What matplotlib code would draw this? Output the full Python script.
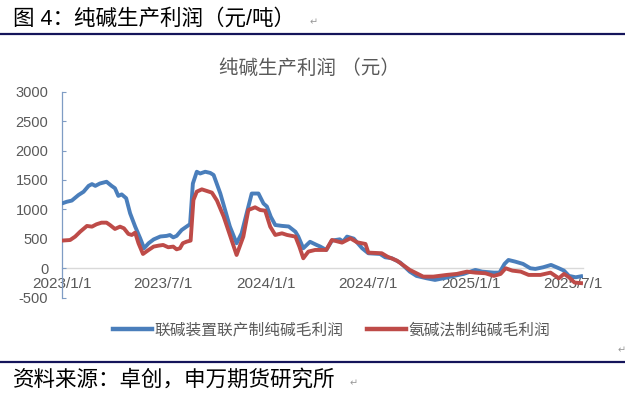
import matplotlib
matplotlib.use("Agg")
import matplotlib.pyplot as plt
import matplotlib.dates as mdates
import pandas as pd
from matplotlib.lines import Line2D

plt.rcParams['font.family'] = ['Liberation Sans', 'Noto Sans CJK SC', 'DejaVu Sans']

# ---------------- data ----------------
blue_dates = ["2023-01-01", "2023-01-10", "2023-01-19", "2023-01-31", "2023-02-09", "2023-02-18",
              "2023-02-24", "2023-03-02", "2023-03-10", "2023-03-22", "2023-03-31", "2023-04-06",
              "2023-04-12", "2023-04-18", "2023-04-26", "2023-05-03", "2023-05-12", "2023-05-21",
              "2023-05-28", "2023-06-05", "2023-06-14", "2023-06-26", "2023-07-07", "2023-07-13",
              "2023-07-19", "2023-07-25", "2023-08-03", "2023-08-12", "2023-08-18", "2023-08-23",
              "2023-08-30", "2023-09-05", "2023-09-14", "2023-09-23", "2023-09-29", "2023-10-11",
              "2023-10-28", "2023-11-09", "2023-11-18", "2023-11-27", "2023-12-06", "2023-12-18",
              "2023-12-27", "2024-01-02", "2024-01-09", "2024-01-17", "2024-01-29", "2024-02-10",
              "2024-02-22", "2024-02-27", "2024-03-07", "2024-03-19", "2024-03-31", "2024-04-06",
              "2024-04-17", "2024-04-27", "2024-05-11", "2024-05-17", "2024-05-24", "2024-06-05",
              "2024-06-20", "2024-07-01", "2024-07-22", "2024-07-31", "2024-08-12", "2024-08-27",
              "2024-09-13", "2024-09-25", "2024-10-13", "2024-10-28", "2024-11-12", "2024-11-30",
              "2024-12-18", "2025-01-08", "2025-01-20", "2025-02-10", "2025-02-20", "2025-03-01",
              "2025-03-08", "2025-03-20", "2025-04-03", "2025-04-16", "2025-04-25", "2025-05-09",
              "2025-05-23", "2025-06-06", "2025-06-15", "2025-06-24", "2025-07-06", "2025-07-19"]
blue_values = [1100, 1130, 1150, 1245, 1300, 1400,
               1430, 1400, 1440, 1470, 1400, 1360,
               1230, 1255, 1190, 935, 710, 510,
               340, 425, 490, 540, 550, 565,
               525, 550, 650, 710, 750, 1440,
               1640, 1610, 1640, 1620, 1585, 1270,
               710, 425, 595, 935, 1270, 1270,
               1100, 1050, 875, 735, 720, 710,
               620, 540, 340, 450, 395, 370,
               311, 470, 492, 453, 538, 504,
               340, 255, 243, 187, 170, 96,
               -57, -130, -170, -198, -170, -130,
               -96, -28, -57, -74, -74, 74,
               141, 113, 74, 0, -11, 17,
               57, 0, -40, -130, -153, -130]

red_dates = ["2023-01-01", "2023-01-16", "2023-01-25", "2023-02-03", "2023-02-15", "2023-02-24",
             "2023-03-04", "2023-03-13", "2023-03-22", "2023-03-28", "2023-04-06", "2023-04-15",
             "2023-04-22", "2023-04-30", "2023-05-06", "2023-05-12", "2023-05-18", "2023-05-26",
             "2023-06-05", "2023-06-14", "2023-06-23", "2023-07-01", "2023-07-10", "2023-07-19",
             "2023-07-25", "2023-07-31", "2023-08-05", "2023-08-12", "2023-08-19", "2023-08-24",
             "2023-08-30", "2023-09-08", "2023-09-17", "2023-09-26", "2023-10-05", "2023-10-17",
             "2023-10-28", "2023-11-09", "2023-11-21", "2023-11-30", "2023-12-12", "2023-12-21",
             "2023-12-30", "2024-01-08", "2024-01-17", "2024-01-29", "2024-02-07", "2024-02-22",
             "2024-02-29", "2024-03-07", "2024-03-16", "2024-03-28", "2024-04-08", "2024-04-17",
             "2024-04-27", "2024-05-15", "2024-05-30", "2024-06-11", "2024-06-26", "2024-07-01",
             "2024-07-25", "2024-08-04", "2024-08-21", "2024-09-13", "2024-10-07", "2024-10-25",
             "2024-11-18", "2024-12-06", "2024-12-24", "2025-01-08", "2025-01-26", "2025-02-10",
             "2025-02-22", "2025-03-03", "2025-03-15", "2025-03-30", "2025-04-13", "2025-05-04",
             "2025-05-22", "2025-06-06", "2025-06-15", "2025-06-24", "2025-07-04", "2025-07-19"]
red_values = [470, 480, 538, 622, 719, 707,
              747, 775, 775, 736, 668, 707,
              679, 583, 566, 606, 425, 243,
              311, 368, 385, 396, 357, 368,
              322, 340, 425, 453, 470, 1160,
              1302, 1341, 1313, 1285, 1150, 877,
              566, 226, 538, 990, 1036, 990,
              979, 707, 566, 594, 566, 538,
              368, 170, 283, 311, 311, 311,
              481, 436, 509, 441, 413, 266,
              255, 198, 130, -28, -142, -142,
              -113, -96, -57, -74, -85, -130,
              -96, 0, -40, -57, -113, -113,
              -74, -170, -96, -153, -243, -255]

series_names = ["联碱装置联产制纯碱毛利润", "氨碱法制纯碱毛利润"]
x_tick_dates = ["2023-01-01", "2023-07-01", "2024-01-01", "2024-07-01", "2025-01-01", "2025-07-01"]
x_tick_labels = ["2023/1/1", "2023/7/1", "2024/1/1", "2024/7/1", "2025/1/1", "2025/7/1"]
y_ticks = [-500, 0, 500, 1000, 1500, 2000, 2500, 3000]

heading = "图 4：纯碱生产利润（元/吨）"
chart_title = "纯碱生产利润 （元）"
source = "资料来源：卓创，申万期货研究所"

# ---------------- figure ----------------
W, H = 625, 399
fig = plt.figure(figsize=(W / 100, H / 100), dpi=100)
fig.patch.set_facecolor("white")

def fx(px):
    return px / W

def fy(py):
    return 1 - py / H

ax_left, ax_right, ax_top, ax_bot = 61.7, 583.0, 91.7, 297.7
ax = fig.add_axes([fx(ax_left), fy(ax_bot), fx(ax_right - ax_left), (ax_bot - ax_top) / H])
ax.set_facecolor("none")

bd = pd.to_datetime(blue_dates)
rd = pd.to_datetime(red_dates)
blue_c = "#4A7EBB"
red_c = "#BE4B48"
ax.plot(bd, blue_values, color=blue_c, lw=2.8, solid_joinstyle="round", solid_capstyle="butt", zorder=3)
ax.plot(rd, red_values, color=red_c, lw=2.8, solid_joinstyle="round", solid_capstyle="butt", zorder=4)

ax.set_ylim(-500, 3000)
ax.set_xlim(pd.Timestamp("2023-01-01"), pd.Timestamp("2025-07-19"))
ax.set_yticks(y_ticks)
ax.set_yticklabels([str(v) for v in y_ticks])
ax.set_xticks(pd.to_datetime(x_tick_dates))
ax.set_xticklabels(x_tick_labels)

for s in ["top", "right"]:
    ax.spines[s].set_visible(False)
ax.spines["left"].set_color("#7F9CC4")
ax.spines["left"].set_linewidth(0.9)
ax.spines["bottom"].set_position(("data", 0))
ax.spines["bottom"].set_color("#D9D9D9")
ax.spines["bottom"].set_linewidth(1.0)
ax.spines["bottom"].set_zorder(1)

ax.tick_params(axis="y", direction="in", length=3, width=0.8, color="#7F9CC4",
               pad=9.6, labelsize=10.5, labelcolor="#595959")
ax.tick_params(axis="x", length=0, pad=6.5, labelsize=11, labelcolor="#595959")

# chart title
fig.text(fx(309.5), fy(68.7), chart_title, ha="center", va="center", fontsize=14,
         color="#595959")

# legend
handles = [Line2D([], [], color=blue_c, lw=3.2), Line2D([], [], color=red_c, lw=3.2)]
fig.legend(handles, series_names, loc="center", bbox_to_anchor=(fx(331.5), fy(330)),
           ncol=2, frameon=False, fontsize=11.3, handlelength=2.5, handletextpad=0.15,
           columnspacing=1.5, labelcolor="#595959", borderpad=0)

# heading, separators, source
fig.text(fx(13), fy(19), heading, ha="left", va="center", fontsize=15.5, color="black")
fig.text(fx(310), fy(22), "↵", ha="left", va="center", fontsize=7, color="#999999",
         family="DejaVu Sans")
fig.add_artist(Line2D([0, 1], [fy(33.5), fy(33.5)], color="#14145A", lw=1.6))
fig.text(fx(618), fy(350), "↵", ha="left", va="center", fontsize=7, color="#999999",
         family="DejaVu Sans")
fig.add_artist(Line2D([0, 1], [fy(361.7), fy(361.7)], color="#14145A", lw=1.6))
fig.text(fx(13), fy(380), source, ha="left", va="center", fontsize=15.5, color="black")
fig.text(fx(350), fy(383), "↵", ha="left", va="center", fontsize=7, color="#999999",
         family="DejaVu Sans")

fig.savefig("out.png", dpi=100, facecolor="white")
